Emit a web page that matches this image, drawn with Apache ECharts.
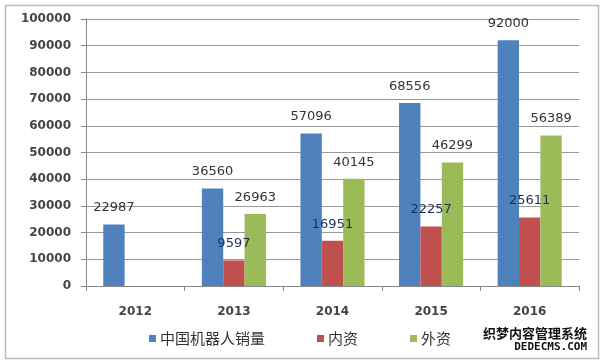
<!DOCTYPE html>
<html>
<head>
<meta charset="utf-8">
<script src="https://cdn.jsdelivr.net/npm/echarts@6/dist/echarts.min.js"></script>
<style>html,body{margin:0;padding:0;background:#fff;}#c{width:600px;height:361px;}</style>
</head>
<body>
<div id="c"></div>
<script>
var categories = ['2012', '2013', '2014', '2015', '2016'];
var seriesNames = ['中国机器人销量', '内资', '外资'];
var totalSales = [22987, 36560, 57096, 68556, 92000];
var domestic = [null, 9597, 16951, 22257, 25611];
var foreign = [null, 26963, 40145, 46299, 56389];
var yTicks = { min: 0, max: 100000, interval: 10000 };
var colors = ['#4F81BD', '#C0504D', '#9BBB59'];

var chart = echarts.init(document.getElementById('c'), null, { renderer: 'canvas' });
var numFont = 'DejaVu Sans';
function labelCfg(color) {
  return { show: true, position: 'top', distance: 10, fontFamily: numFont, fontSize: 13, color: color };
}
chart.setOption({
  animation: false,
  backgroundColor: '#fff',
  color: colors,
  grid: { left: 86, right: 21, top: 19, bottom: 75 },
  legend: {
    bottom: 10,
    left: 'center',
    itemWidth: 7, itemHeight: 7, itemGap: 52,
    icon: 'rect',
    textStyle: { fontFamily: 'Noto Sans CJK SC', fontSize: 15, color: '#333', padding: [0, 0, 0, -1] },
    data: seriesNames
  },
  xAxis: {
    type: 'category',
    data: categories,
    axisLine: { lineStyle: { color: '#888', width: 1 } },
    axisTick: { show: true, length: 5, lineStyle: { color: '#888' } },
    axisLabel: { margin: 20, fontFamily: numFont, fontSize: 12, fontWeight: 'bold', color: '#444' }
  },
  yAxis: {
    type: 'value',
    min: yTicks.min, max: yTicks.max, interval: yTicks.interval,
    axisLine: { show: true, lineStyle: { color: '#888', width: 1 } },
    axisTick: { show: true, length: 5, lineStyle: { color: '#888' } },
    axisLabel: { margin: 15, fontFamily: numFont, fontSize: 12, fontWeight: 'bold', color: '#444',
      formatter: function (v) { return String(v); } },
    splitLine: { lineStyle: { color: '#999', width: 1 } }
  },
  series: [
    { name: seriesNames[0], type: 'bar', data: totalSales, barGap: '0%', barCategoryGap: '35%', label: labelCfg('#333') },
    { name: seriesNames[1], type: 'bar', data: domestic, label: labelCfg('#1F3055') },
    { name: seriesNames[2], type: 'bar', data: foreign, label: labelCfg('#333') }
  ],
  graphic: [
    { type: 'rect', left: 3, top: 3, shape: { width: 593, height: 353 }, style: { fill: 'none', stroke: '#bbb', lineWidth: 1.5 }, silent: true },
    { type: 'text', right: 12, bottom: 20, style: { text: '织梦内容管理系统', fontFamily: 'Noto Sans CJK SC', fontWeight: 'bold', fontSize: 13, fill: '#111', stroke: '#fff', lineWidth: 2 } },
    { type: 'text', right: 12, bottom: 7, style: { text: 'DEDECMS.COM', fontFamily: 'DejaVu Sans Mono', fontWeight: 'bold', fontSize: 11, fill: '#111', stroke: '#fff', lineWidth: 2 } }
  ]
});
</script>
</body>
</html>
